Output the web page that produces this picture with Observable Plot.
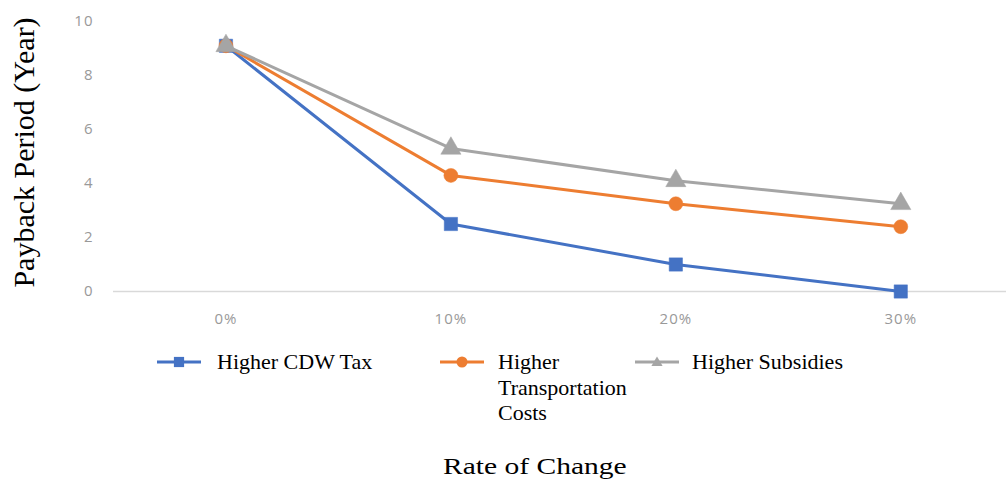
<!DOCTYPE html>
<html>
<head>
<meta charset="utf-8">
<script src="https://cdn.jsdelivr.net/npm/d3@7"></script>
<script src="https://cdn.jsdelivr.net/npm/@observablehq/plot@0.6"></script>
<style>
  html, body { margin: 0; padding: 0; background: #fff; }
  #wrap { position: relative; width: 1006px; height: 481px; overflow: hidden; }
  #chart svg { display: block; }
  #chart svg [aria-label$="tick label"] text { letter-spacing: 1px; }
  .lg { position: absolute; font-family: "Liberation Serif", serif; font-size: 22px; line-height: 25.5px; color: #000; white-space: nowrap; }
  .sw { position: absolute; }
  #xtitle { position: absolute; font-family: "Liberation Serif", serif; font-size: 24px; line-height: 24px; color: #000; white-space: nowrap; transform: scaleX(1.23); transform-origin: left top; }
</style>
</head>
<body>
<div id="wrap">
  <div id="chart"></div>
</div>
<script>
// ---- data ----
const rates = [0, 10, 20, 30];
const rateLabels = ["0%", "10%", "20%", "30%"];
const seriesNames = ["Higher CDW Tax", "Higher Transportation Costs", "Higher Subsidies"];
const cdwTax = [9.1, 2.5, 1.0, 0.0];
const transportCosts = [9.1, 4.3, 3.25, 2.4];
const subsidies = [9.1, 5.3, 4.1, 3.25];
const yTicks = [0, 2, 4, 6, 8, 10];
const yTitle = "Payback Period (Year)";
const xTitle = "Rate of Change";

const colors = ["#4472C4", "#ED7D31", "#A5A5A5"];
const symbols = ["square", "circle", "triangle"];
const radii = [7.5, 7, 7.5];

const allSeries = [cdwTax, transportCosts, subsidies];
const rows = [];
allSeries.forEach((vals, s) => vals.forEach((v, i) => rows.push({series: seriesNames[s], rate: rates[i], value: v, s})));

const marks = [
  Plot.ruleY([0], {stroke: "#d9d9d9", strokeWidth: 1.5}),
  Plot.line(rows, {x: "rate", y: "value", z: "series", stroke: "series", strokeWidth: 3})
];
seriesNames.forEach((name, s) => {
  marks.push(Plot.dot(rows.filter(d => d.s === s), {
    x: "rate", y: "value", fill: colors[s], stroke: colors[s], strokeWidth: 0.5,
    symbol: symbols[s], r: radii[s]
  }));
});
marks.push(Plot.text([yTitle], {
  frameAnchor: "left", dx: -89, dy: -4, rotate: -90, text: d => d,
  fontSize: 30, fontFamily: "Liberation Serif", fill: "#000", textAnchor: "middle", lineAnchor: "middle"
}));

const chart = Plot.plot({
  width: 1006,
  height: 335,
  marginLeft: 113,
  marginRight: 0,
  marginTop: 21,
  marginBottom: 44,
  style: {fontFamily: "'Open Sans', sans-serif", fontSize: "15px", color: "#999999", background: "#fff"},
  x: {type: "linear", domain: [-5, 34.7], ticks: rates, tickFormat: (d) => rateLabels[rates.indexOf(d)], tickSize: 0, tickPadding: 22, label: null},
  y: {domain: [0, 10], ticks: yTicks, tickSize: 0, tickPadding: 20, label: null},
  color: {domain: seriesNames, range: colors},
  marks
});
document.getElementById("chart").appendChild(chart);

// ---- legend (below the plot) ----
const wrap = document.getElementById("wrap");
const legendPos = [
  {sx: 157, tx: 217, html: "Higher CDW Tax"},
  {sx: 440, tx: 498, html: "Higher<br>Transportation<br>Costs"},
  {sx: 635, tx: 692, html: "Higher Subsidies"}
];
const symPaths = {
  square: "M-6,-6h12v12h-12z",
  triangle: "M0,-7L7,5H-7Z"
};
legendPos.forEach((p, s) => {
  const sw = document.createElementNS("http://www.w3.org/2000/svg", "svg");
  sw.setAttribute("class", "sw");
  sw.setAttribute("width", 44);
  sw.setAttribute("height", 20);
  sw.style.left = p.sx + "px";
  sw.style.top = (362 - 10) + "px";
  let inner = `<line x1="0" y1="10" x2="44" y2="10" stroke="${colors[s]}" stroke-width="3"/>`;
  if (symbols[s] === "circle") inner += `<circle cx="22" cy="10" r="5.5" fill="${colors[s]}"/>`;
  else if (symbols[s] === "square") inner += `<path transform="translate(22,10) scale(0.85)" d="${symPaths.square}" fill="${colors[s]}"/>`;
  else inner += `<path transform="translate(22,10) scale(0.8)" d="${symPaths.triangle}" fill="${colors[s]}"/>`;
  sw.innerHTML = inner;
  wrap.appendChild(sw);
  const t = document.createElement("div");
  t.className = "lg";
  t.style.left = p.tx + "px";
  t.style.top = "349px";
  t.innerHTML = p.html;
  wrap.appendChild(t);
});
const xt = document.createElement("div");
xt.id = "xtitle";
xt.style.left = "443px";
xt.style.top = "454px";
xt.textContent = xTitle;
wrap.appendChild(xt);
</script>
</body>
</html>
